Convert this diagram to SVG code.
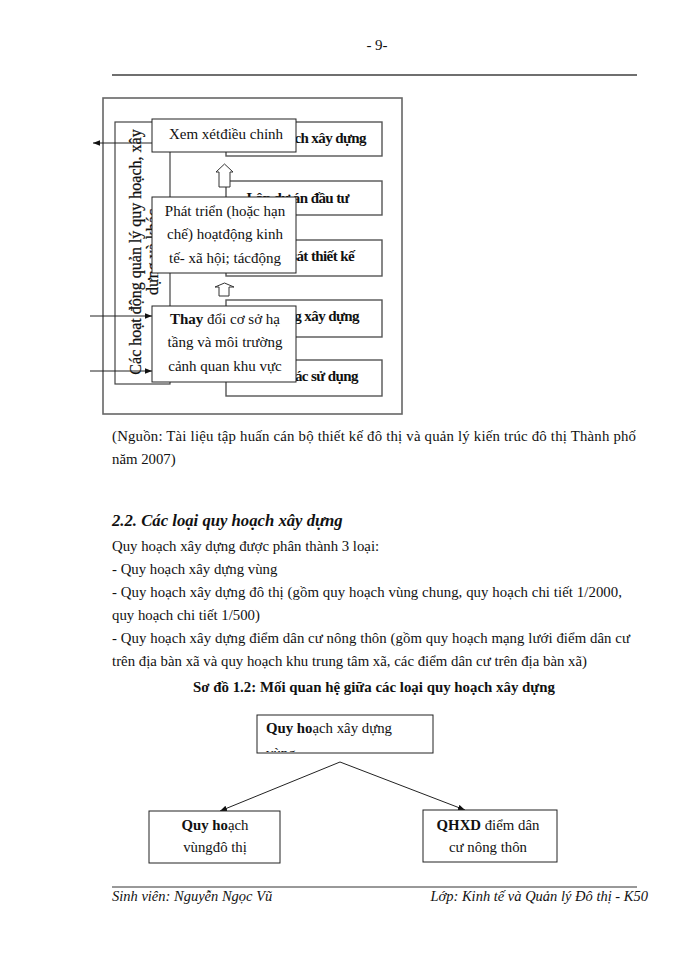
<svg xmlns="http://www.w3.org/2000/svg" width="700" height="960" viewBox="0 0 700 960">
<style>
text{font-family:"Liberation Serif","Times New Roman",serif;fill:#111;}
.body{font-size:14.8px;}
.ov{font-size:15px;}
.rb{font-size:15px;font-weight:bold;letter-spacing:-0.6px;}
.vt{font-size:16px;stroke:#111;stroke-width:0.25px;}
.box{fill:#fff;stroke:#222;stroke-width:1;}
.rbox{fill:#fff;stroke:#555;stroke-width:1.4;}
.ln{stroke:#222;stroke-width:1;fill:none;}
.ft{font-size:14.5px;font-style:italic;}
</style>
<defs>
<marker id="ah" viewBox="0 0 10 10" refX="10" refY="5" markerWidth="7" markerHeight="7" orient="auto-start-reverse" markerUnits="userSpaceOnUse">
<path d="M0,1 L10,5 L0,9 z" fill="#111"/>
</marker>
<clipPath id="topclip"><rect x="258" y="716" width="174" height="36"/></clipPath>
</defs>
<rect width="700" height="960" fill="#fff"/>

<text x="377" y="50" text-anchor="middle" style="font-size:15px">- 9-</text>
<line x1="112" y1="75" x2="637" y2="75" stroke="#6f6f6f" stroke-width="1.8"/>

<!-- Diagram 1 -->
<g id="frame">
<rect x="103" y="98" width="299" height="316" fill="none" stroke="#666" stroke-width="1.6"/>
</g>
<g id="right-boxes">
<g id="b1"><rect class="rbox" x="226" y="122" width="156" height="34"/><text class="rb" x="366" y="143" text-anchor="end">Lập quy hoạch xây dựng</text></g>
<g id="b2"><rect class="rbox" x="226" y="181" width="156" height="34"/><text class="rb" x="349" y="203" text-anchor="end">Lập dự án đầu tư</text></g>
<g id="b3"><rect class="rbox" x="226" y="240" width="156" height="36"/><text class="rb" x="354" y="261" text-anchor="end">Khảo sát thiết kế</text></g>
<g id="b4"><rect class="rbox" x="226" y="300" width="156" height="37"/><text class="rb" x="359" y="321" text-anchor="end">Thi công xây dựng</text></g>
<g id="b5"><rect class="rbox" x="226" y="360" width="156" height="36"/><text class="rb" x="358" y="381" text-anchor="end">Khai thác sử dụng</text></g>
</g>
<g id="hollow-arrows">
<path d="M219,187 L219,172 L216,172 L224.5,164 L233,172 L230,172 L230,187 Z" fill="#fff" stroke="#333" stroke-width="1"/>
<path d="M219,296 L219,287 L215,287 L224.5,283 L234,287 L229,287 L229,296 Z" fill="#fff" stroke="#333" stroke-width="1"/>
</g>
<g id="vbox">
<rect x="115" y="122" width="55" height="262" fill="#fff" stroke="#444" stroke-width="1.2"/>
<text class="vt" transform="translate(141,252) rotate(-90)" text-anchor="middle">Các hoạt động quản lý quy hoạch, xây</text>
<text class="vt" transform="translate(158,252) rotate(-90)" text-anchor="middle">dựng và khác</text>
</g>
<g id="connectors1">
<line class="ln" x1="152" y1="143" x2="93" y2="143" marker-end="url(#ah)"/>
<line class="ln" x1="90" y1="316" x2="152" y2="316" marker-end="url(#ah)"/>
<line class="ln" x1="90" y1="371" x2="152" y2="371" marker-end="url(#ah)"/>
</g>
<g id="n-xem">
<rect class="box" x="152" y="119" width="144" height="33"/>
<text class="ov" x="226" y="139" text-anchor="middle">Xem xétđiều chỉnh</text>
</g>
<g id="n-phat">
<rect class="box" x="152" y="197" width="144" height="76"/>
<text class="ov" x="225" y="216" text-anchor="middle">Phát triển (hoặc hạn</text>
<text class="ov" x="225" y="239" text-anchor="middle">chế) hoạtđộng kinh</text>
<text class="ov" x="225" y="263" text-anchor="middle">tế- xã hội; tácđộng</text>
</g>
<g id="n-thay">
<rect class="box" x="152" y="306" width="144" height="76"/>
<text class="ov" x="225" y="324" text-anchor="middle"><tspan font-weight="bold">Thay</tspan>  đổi cơ sở hạ</text>
<text class="ov" x="225" y="347" text-anchor="middle">tầng và môi trường</text>
<text class="ov" x="225" y="371" text-anchor="middle">cảnh quan khu vực</text>
</g>

<!-- Text -->
<text class="body" x="112" y="441" textLength="524" lengthAdjust="spacing">(Nguồn: Tài liệu tập huấn cán bộ thiết kế đô thị và quản lý kiến trúc đô thị Thành phố</text>
<text class="body" x="112" y="464">năm 2007)</text>

<text x="112" y="526" style="font-size:16.7px;font-weight:bold;font-style:italic">2.2. Các loại quy hoạch xây dựng</text>
<text class="body" x="112" y="551">Quy hoạch xây dựng được phân thành 3 loại:</text>
<text class="body" x="112" y="574">- Quy hoạch xây dựng vùng</text>
<text class="body" x="112" y="597" textLength="510" lengthAdjust="spacing">- Quy hoạch xây dựng đô thị (gồm quy hoạch vùng chung, quy hoạch chi tiết 1/2000,</text>
<text class="body" x="112" y="620">quy hoạch chi tiết 1/500)</text>
<text class="body" x="112" y="643" textLength="518" lengthAdjust="spacing">- Quy hoạch xây dựng điểm dân cư nông thôn (gồm quy hoạch mạng lưới điểm dân cư</text>
<text class="body" x="112" y="666" textLength="475" lengthAdjust="spacing">trên địa bàn xã và quy hoạch khu trung tâm xã, các điểm dân cư trên địa bàn xã)</text>
<text x="374" y="692" text-anchor="middle" textLength="362" lengthAdjust="spacingAndGlyphs" style="font-size:14.5px;font-weight:bold">Sơ đồ 1.2: Mối quan hệ giữa các loại quy hoạch xây dựng</text>

<!-- Diagram 2 -->
<g id="connectors2">
<line class="ln" x1="340" y1="762" x2="220" y2="811" marker-end="url(#ah)"/>
<line class="ln" x1="340" y1="762" x2="465" y2="810" marker-end="url(#ah)"/>
</g>
<g id="n-qhxd">
<rect class="box" x="257" y="715" width="176" height="38"/>
<g clip-path="url(#topclip)">
<text class="body" x="266" y="733"><tspan font-weight="bold">Quy ho</tspan>ạch xây  dựng</text>
<text class="body" x="266" y="758">vùng</text>
</g>
</g>
<g id="n-vung">
<rect class="box" x="149" y="811" width="131" height="52"/>
<text class="body" x="215" y="830" text-anchor="middle"><tspan font-weight="bold">Quy ho</tspan>ạch</text>
<text class="body" x="215" y="852" text-anchor="middle">vùngđô  thị</text>
</g>
<g id="n-dan">
<rect class="box" x="423" y="810" width="134" height="52"/>
<text class="body" x="488" y="830" text-anchor="middle"><tspan font-weight="bold">QHXD</tspan> điểm dân</text>
<text class="body" x="488" y="852" text-anchor="middle">cư nông thôn</text>
</g>

<!-- Footer -->
<line x1="112" y1="887" x2="637" y2="887" stroke="#333" stroke-width="1"/>
<text class="ft" x="112" y="901">Sinh viên: Nguyễn Ngọc Vũ</text>
<text class="ft" x="648" y="901" text-anchor="end">Lớp:  Kinh tế và Quản lý  Đô thị - K50</text>
</svg>
